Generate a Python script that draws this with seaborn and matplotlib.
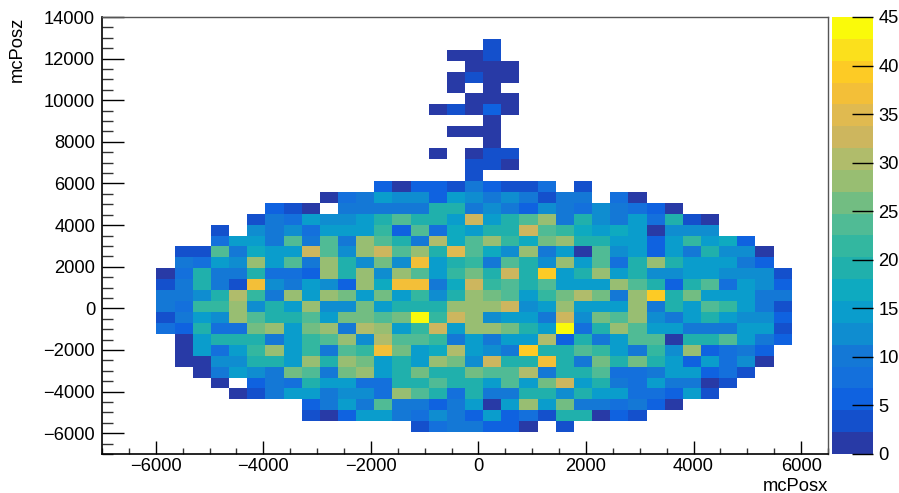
import numpy as np
import seaborn as sns
import matplotlib.pyplot as plt
from matplotlib.colors import ListedColormap

sns.set_style('ticks')
plt.rcParams['font.family'] = ['Liberation Sans', 'DejaVu Sans']
plt.rcParams['text.color'] = 'black'
plt.rcParams['xtick.labelcolor'] = 'black'
plt.rcParams['ytick.labelcolor'] = 'black'

# histogram binning, 40 x 40
x_low = -7000
x_high = 6500
z_low = -7000
z_high = 14000
n_bins = 40

x_ticks = [-6000, -4000, -2000, 0, 2000, 4000, 6000]
z_ticks = [-6000, -4000, -2000, 0, 2000, 4000, 6000, 8000, 10000, 12000, 14000]
bar_ticks = [0, 5, 10, 15, 20, 25, 30, 35, 40, 45]

# palette, bottom to top
palette = ['#283AA6', '#1450CC', '#0F62E0', '#1470DC', '#1478D6', '#0F8DD0', '#0A9DCC',
           '#0EAAC0', '#20B0AC', '#33B7A0', '#50BB95', '#72BD82', '#98BE72', '#B0BC6B',
           '#CDB65E', '#E0BA50', '#F3BF38', '#FDCB25', '#FBE01C', '#FAFA0A']

# first filled column of each row, rows go from the top of the plot down (rows 0,1 are empty)
row_start = [21, 19, 20, 19, 19, 20, 18, 21, 19, 21, 18, 20, 20, 15, 12, 9, 8, 6, 6, 4, 4, 3, 3, 3,
             3, 3, 3, 4, 4, 4, 5, 6, 7, 11, 11, 17]

row_values = [
    [3],
    [1, 1, 3],
    [1, 1, 1],
    [1, 3, 1, 1],
    [1, 0, 1],
    [1, 1, 1],
    [1, 3, 1, 6, 1],
    [1],
    [1, 1, 1],
    [1],
    [1, 0, 1, 3, 3],
    [3, 3, 1],
    [3],
    [6, 1, 5, 5, 3, 10, 6, 3, 3, 8, 0, 3],
    [1, 8, 10, 14, 12, 13, 6, 14, 13, 10, 13, 11, 3, 10, 10, 0, 8, 1],
    [6, 3, 1, 0, 10, 10, 11, 10, 11, 18, 18, 10, 12, 10, 6, 12, 10, 8, 12, 10, 8, 6, 1],
    [3, 10, 8, 15, 12, 12, 14, 18, 24, 18, 18, 14, 33, 15, 18, 24, 28, 10, 18, 12, 10, 14, 8, 18, 3, 1],
    [3, 0, 12, 9, 12, 8, 15, 15, 15, 21, 6, 23, 8, 16, 15, 19, 19, 33, 23, 21, 16, 14, 16, 15, 1, 12, 12, 12],
    [8, 15, 14, 10, 23, 10, 23, 9, 28, 24, 18, 9, 30, 17, 24, 28, 21, 16, 25, 27, 18, 18, 14, 14, 6, 15, 21, 14, 16, 6],
    [3, 3, 23, 10, 16, 14, 14, 33, 23, 12, 27, 33, 23, 28, 18, 34, 23, 16, 12, 27, 10, 14, 1, 23, 13, 15, 6, 14, 10, 18, 12, 12, 1],
    [10, 7, 15, 12, 28, 15, 23, 10, 28, 20, 13, 25, 12, 36, 15, 20, 21, 10, 23, 20, 12, 27, 14, 23, 8, 18, 28, 18, 14, 15, 14, 9, 6],
    [1, 7, 18, 10, 10, 18, 8, 8, 6, 28, 18, 27, 12, 27, 23, 15, 22, 25, 20, 33, 18, 40, 14, 18, 28, 14, 18, 12, 12, 15, 15, 12, 12, 12, 3],
    [3, 10, 18, 9, 3, 37, 13, 11, 15, 12, 6, 27, 17, 36, 38, 11, 17, 33, 21, 23, 18, 23, 15, 14, 15, 28, 23, 18, 6, 18, 23, 8, 15, 12, 6],
    [10, 10, 12, 18, 30, 21, 10, 28, 15, 28, 25, 14, 25, 14, 21, 13, 20, 28, 25, 23, 15, 21, 25, 30, 25, 10, 28, 40, 20, 25, 14, 15, 14, 10, 10],
    [10, 8, 21, 21, 28, 12, 18, 15, 28, 12, 12, 25, 14, 20, 20, 20, 28, 28, 28, 33, 12, 14, 28, 15, 14, 14, 28, 10, 18, 14, 23, 21, 14, 9, 3],
    [3, 9, 15, 12, 28, 23, 18, 18, 23, 14, 25, 25, 23, 25, 45, 21, 33, 28, 12, 15, 14, 9, 33, 12, 25, 23, 28, 12, 9, 15, 18, 14, 12, 12, 5],
    [8, 6, 18, 8, 8, 25, 28, 14, 25, 28, 10, 31, 28, 14, 21, 33, 14, 28, 28, 25, 20, 15, 45, 8, 18, 28, 23, 15, 15, 10, 11, 11, 14, 15, 3],
    [1, 14, 18, 18, 18, 9, 14, 21, 23, 28, 13, 31, 23, 23, 21, 9, 15, 11, 14, 14, 30, 6, 18, 9, 15, 23, 23, 1, 18, 18, 23, 15, 9, 6],
    [1, 14, 7, 15, 21, 28, 14, 21, 9, 23, 21, 38, 25, 14, 17, 30, 15, 13, 11, 40, 18, 18, 23, 21, 15, 9, 21, 12, 28, 6, 8, 9, 5],
    [1, 1, 12, 12, 18, 18, 14, 28, 18, 28, 25, 15, 20, 14, 28, 25, 12, 33, 18, 18, 36, 20, 9, 25, 18, 25, 18, 14, 6, 14, 7, 12, 1],
    [1, 9, 14, 12, 9, 25, 23, 11, 25, 28, 14, 18, 25, 20, 18, 25, 23, 23, 30, 11, 18, 18, 23, 7, 8, 9, 15, 14, 5, 7, 3],
    [1, 0, 6, 11, 7, 18, 14, 15, 7, 8, 18, 18, 23, 18, 18, 14, 23, 14, 25, 33, 15, 20, 9, 8, 14, 9, 9, 1, 3],
    [1, 3, 10, 15, 15, 9, 12, 12, 7, 28, 23, 18, 7, 20, 11, 11, 18, 18, 13, 20, 14, 15, 7, 7, 6, 14, 3],
    [6, 11, 15, 9, 23, 11, 11, 5, 11, 15, 1, 14, 28, 15, 25, 9, 9, 7, 9, 5, 1],
    [3, 1, 6, 15, 14, 10, 7, 12, 9, 6, 15, 6, 8, 3, 18, 18, 1, 5, 3],
    [3, 8, 10, 10, 6, 6, 1, 0, 3],
]

counts = np.zeros((n_bins, n_bins))
for i, (start, vals) in enumerate(zip(row_start, row_values)):
    counts[i + 2, start:start + len(vals)] = vals

fig = plt.figure(figsize=(8.99, 4.93), dpi=100)
W, H = 899, 493
ax = fig.add_axes([102 / W, 1 - 454 / H, 726 / W, 437 / H])
cax = fig.add_axes([832 / W, 1 - 454 / H, 41 / W, 437 / H])

sns.heatmap(counts, mask=counts == 0, cmap=ListedColormap(palette), vmin=0, vmax=45,
            ax=ax, cbar_ax=cax, square=False, xticklabels=False, yticklabels=False)

# heatmap works in cell units so convert the axis values
x_bin = (x_high - x_low) / n_bins
z_bin = (z_high - z_low) / n_bins
def to_col(v):
    return (np.asarray(v) - x_low) / x_bin
def to_row(v):
    return (z_high - np.asarray(v)) / z_bin
def label(v):
    return str(v).replace('-', '\u2212')

fs = 13.2
ax.set_xticks(to_col(x_ticks))
ax.set_xticklabels([label(v) for v in x_ticks], rotation=0)
ax.set_yticks(to_row(z_ticks))
ax.set_yticklabels([label(v) for v in z_ticks], rotation=0)
ax.set_xticks(to_col(np.arange(x_low, x_high + 1, 500)), minor=True)
ax.set_yticks(to_row(np.arange(z_low, z_high + 1, 500)), minor=True)

px = 0.72
ax.tick_params(axis='x', which='major', direction='in', length=13 * px, width=1, pad=3, labelsize=fs, color='black', labelcolor='black')
ax.tick_params(axis='y', which='major', direction='in', length=22 * px, width=1, pad=5, labelsize=fs, color='black', labelcolor='black')
ax.tick_params(axis='x', which='minor', direction='in', length=6.5 * px, width=1, color='#333333')
ax.tick_params(axis='y', which='minor', direction='in', length=11 * px, width=1, color='#333333')

for s in ax.spines:
    ax.spines[s].set_visible(True)
    ax.spines[s].set_color('#555555')
    ax.spines[s].set_linewidth(1)
ax.spines['left'].set_color('black')
ax.spines['left'].set_linewidth(1.2)
ax.spines['bottom'].set_color('black')
ax.spines['bottom'].set_linewidth(1.2)

ax.set_xlabel('mcPosx', fontsize=fs, ha='right', color='black')
ax.xaxis.set_label_coords(1.0, -0.054)
ax.set_ylabel('mcPosz', fontsize=fs, ha='right', color='black')
ax.yaxis.set_label_coords(-0.105, 1.0)

cax.set_yticks(bar_ticks)
cax.set_yticklabels([str(v) for v in bar_ticks])
cax.set_axisbelow(False)
cax.tick_params(axis='y', which='major', direction='in', length=21 * px, width=1, pad=4, labelsize=fs, color='black', labelcolor='black')
cax.tick_params(axis='y', which='minor', length=0)
for s in cax.spines:
    cax.spines[s].set_visible(False)

fig.savefig('out.png', dpi=100)
